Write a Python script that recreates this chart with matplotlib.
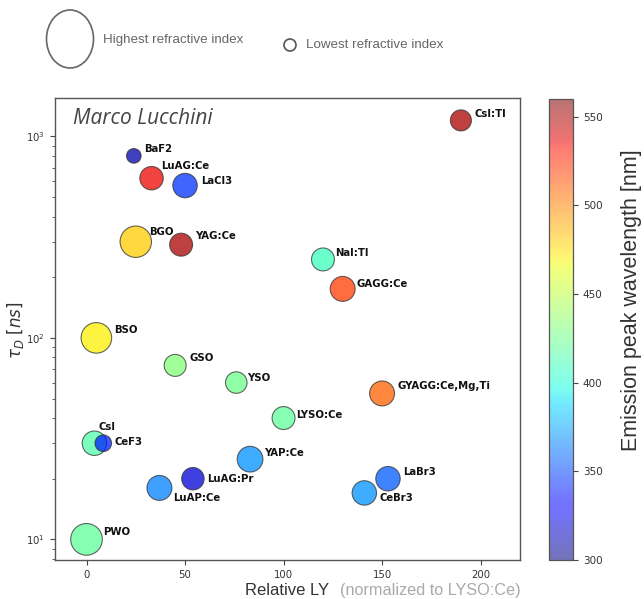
import matplotlib
matplotlib.use("Agg")
import matplotlib.pyplot as plt
from matplotlib.patches import Ellipse
import numpy as np

# Scintillator properties
materials = ["CsI:Tl", "BaF2", "LuAG:Ce", "LaCl3", "BGO", "YAG:Ce", "NaI:Tl",
             "GAGG:Ce", "BSO", "GSO", "YSO", "LYSO:Ce", "CsI", "CeF3", "YAP:Ce",
             "LuAG:Pr", "LuAP:Ce", "PWO", "GYAGG:Ce,Mg,Ti", "LaBr3", "CeBr3"]
relative_ly = [190, 24, 33, 50, 25, 48, 120, 130, 5, 45, 76, 100, 4, 8.5, 83,
               54, 37, 0, 150, 153, 141]
decay_time_ns = [1200, 800, 620, 570, 300, 290, 245, 175, 100, 73, 60, 40, 30,
                 30, 25, 20, 18, 10, 53, 20, 17]
emission_peak_nm = [550, 310, 535, 345, 480, 550, 410, 520, 470, 432, 425, 420,
                    415, 340, 370, 320, 365, 420, 510, 355, 370]
refractive_index = [1.80, 1.50, 1.90, 1.94, 2.20, 1.88, 1.88, 1.96, 2.17, 1.84,
                    1.82, 1.88, 1.94, 1.60, 1.99, 1.86, 1.96, 2.21, 1.96, 1.94,
                    1.94]
cbar_ticks = [300, 350, 400, 450, 500, 550]

# label offsets in pixels (right, up) from the marker centre
label_offsets = {
    "CsI:Tl": (14, 6), "BaF2": (10, 7), "LuAG:Ce": (10, 12), "LaCl3": (16, 5),
    "BGO": (13, 10), "YAG:Ce": (14, 9), "NaI:Tl": (12, 6), "GAGG:Ce": (14, 5),
    "BSO": (18, 8), "GSO": (14, 7), "YSO": (11, 5), "LYSO:Ce": (13, 3),
    "CsI": (4, 16), "CeF3": (11, 1), "YAP:Ce": (14, 6), "LuAG:Pr": (14, 0),
    "LuAP:Ce": (14, -10), "PWO": (17, 7), "GYAGG:Ce,Mg,Ti": (15, 7),
    "LaBr3": (15, 7), "CeBr3": (15, -5),
}

W, H = 644, 599
fig = plt.figure(figsize=(W / 100, H / 100), dpi=100)
ax = fig.add_axes([55 / W, 39 / H, 465 / W, 462 / H])
cax = fig.add_axes([549 / W, 39 / H, 24 / W, 461 / H])

# marker area grows with refractive index
n = np.array(refractive_index)
radius_px = 7.3 * (n / 1.5) ** 2
sizes = (2 * radius_px * 0.72) ** 2

sc = ax.scatter(relative_ly, decay_time_ns, s=sizes, c=emission_peak_nm,
                cmap="jet", vmin=300, vmax=560, alpha=0.75,
                edgecolors="#333333", linewidths=0.8, zorder=3)

for name, x, y in zip(materials, relative_ly, decay_time_ns):
    dx, dy = label_offsets[name]
    ax.annotate(name, (x, y), xytext=(dx * 0.72, dy * 0.72),
                textcoords="offset points", ha="left", va="center",
                fontsize=7.3, fontweight="bold", color="#111111", zorder=4)

ax.set_yscale("log")
ax.set_xlim(-16, 220)
ax.set_ylim(7.9, 1550)
ax.set_xticks([0, 50, 100, 150, 200])

for sp in ax.spines.values():
    sp.set_color("#555555")
    sp.set_linewidth(1.0)
ax.tick_params(axis="both", which="both", labelsize=7.3, colors="#444444",
               labelcolor="#333333")
ax.tick_params(axis="y", which="minor", length=2)

ax.text(73 / W, (599 - 119) / H, "Marco Lucchini", transform=fig.transFigure,
        fontsize=15, style="italic", family="Open Sans", color="#444444",
        ha="left", va="center")

# axis titles
fig.text(15 / W, (599 - 330) / H, r"$\tau_D\ [ns]$", rotation=90,
         fontsize=12, color="#333333", ha="center", va="center")
fig.text(245 / W, (599 - 595) / H, "Relative LY", family="Liberation Sans",
         fontsize=12, color="#333333", ha="left", va="baseline")
fig.text(340 / W, (599 - 595) / H, "(normalized to LYSO:Ce)",
         family="Liberation Sans", fontsize=11.7, color="#aaaaaa",
         ha="left", va="baseline")

# colour bar
cb = fig.colorbar(sc, cax=cax)
cb.solids.set_alpha(0.55)
cb.set_ticks(cbar_ticks)
cb.outline.set_edgecolor("#555555")
cb.outline.set_linewidth(0.9)
cax.tick_params(labelsize=7.5, colors="#444444", labelcolor="#333333")
fig.text(632 / W, (599 - 300) / H, "Emission peak wavelength [nm]",
         rotation=90, family="Liberation Sans", fontsize=15.5, color="#333333",
         ha="center", va="center")

# size key
fig.add_artist(Ellipse((70 / W, (599 - 39) / H), 47 / W, 58 / H,
                       transform=fig.transFigure, fill=False,
                       edgecolor="#666666", linewidth=1.2))
fig.add_artist(Ellipse((290 / W, (599 - 45) / H), 12 / W, 12 / H,
                       transform=fig.transFigure, fill=False,
                       edgecolor="#555555", linewidth=1.2))
fig.text(103 / W, (599 - 40) / H, "Highest refractive index",
         family="Liberation Sans", fontsize=9.6, color="#666666",
         ha="left", va="center")
fig.text(306 / W, (599 - 45) / H, "Lowest refractive index",
         family="Liberation Sans", fontsize=9.6, color="#666666",
         ha="left", va="center")

fig.savefig("out.png", dpi=100, facecolor="white")
